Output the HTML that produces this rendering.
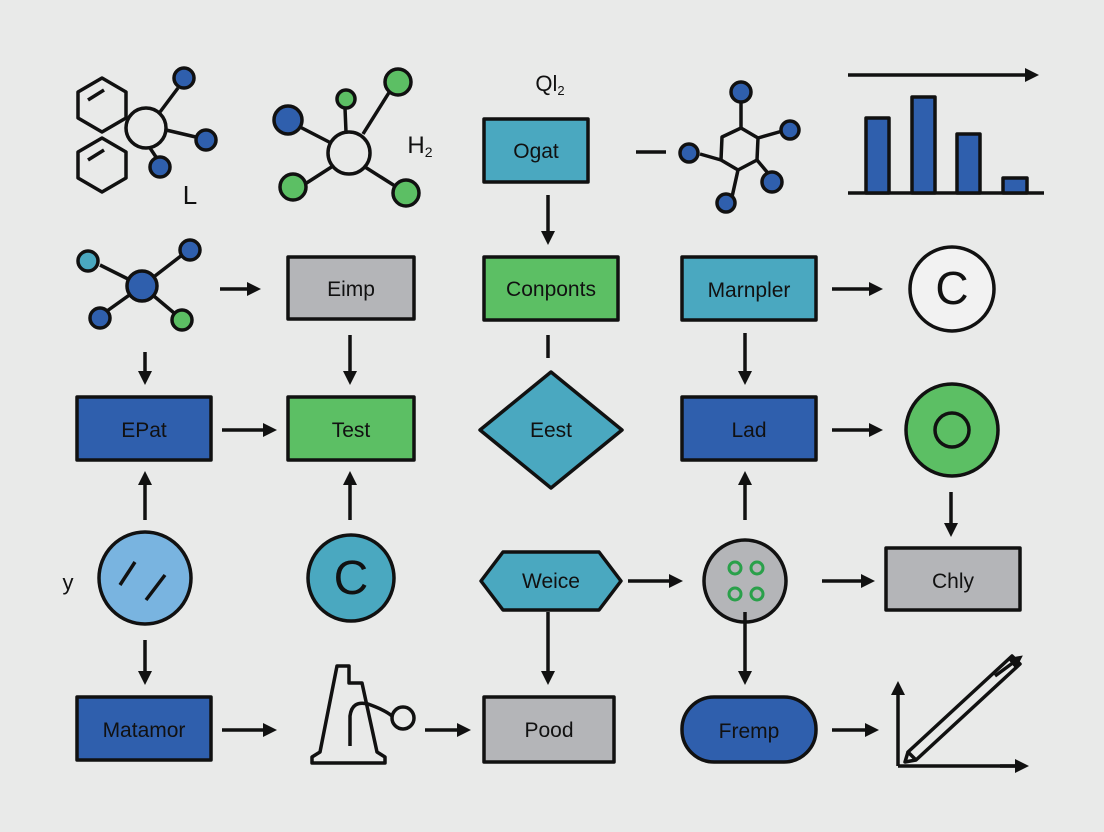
<!DOCTYPE html>
<html><head><style>body{margin:0;background:#e9eae9}svg{display:block}text{font-family:"Liberation Sans",sans-serif;fill:#111}</style></head><body>
<svg width="1104" height="832" viewBox="0 0 1104 832">
<defs><marker id="a" markerWidth="16" markerHeight="16" refX="3" refY="7" orient="auto" markerUnits="userSpaceOnUse"><path d="M0,0 L14,7 L0,14 Z" fill="#111"/></marker></defs>
<rect width="1104" height="832" fill="#e9eae9"/>
<g stroke="#111" stroke-width="3.5" fill="none" stroke-linejoin="round">
<path d="M78,92 L102,78 L126,92 L126,118 L102,132 L78,118 Z"/><path d="M88,100 L104,90"/>
<path d="M78,152 L102,138 L126,152 L126,178 L102,192 L78,178 Z"/><path d="M88,160 L104,150"/>
<circle cx="146" cy="128" r="20" fill="#e9eae9"/>
<path d="M160,112 L178,88 M166,130 L200,138 M150,148 L158,160"/>
<circle cx="349" cy="153" r="21" fill="#e9eae9"/>
<path d="M331,143 L298,126 M346,132 L345,108 M363,134 L390,91 M333,166 L305,184 M365,167 L395,186"/>
<path d="M722,137 L741,128 L758,138 L757,160 L738,170 L721,160 Z"/>
<path d="M741,128 L741,102 M758,138 L786,130 M757,160 L772,178 M738,170 L732,197 M721,160 L700,154 M636,152 L666,152"/>
<path d="M848,193 L1044,193"/>
<path d="M848,75 L1028,75" marker-end="url(#a)"/>
<rect x="866" y="118" width="23" height="75" fill="#2f5fad"/><rect x="912" y="97" width="23" height="96" fill="#2f5fad"/><rect x="957" y="134" width="23" height="59" fill="#2f5fad"/><rect x="1003" y="178" width="24" height="15" fill="#2f5fad"/>
<path d="M142,286 L100,265 M142,286 L186,252 M142,286 L100,316 M142,286 L180,318"/>
<rect x="484" y="119" width="104" height="63" fill="#4aa8c0"/>
<rect x="484" y="257" width="134" height="63" fill="#5cbf64"/>
<rect x="288" y="257" width="126" height="62" fill="#b4b5b8"/>
<rect x="682" y="257" width="134" height="63" fill="#4aa8c0"/>
<rect x="77" y="397" width="134" height="63" fill="#2f5fad"/>
<rect x="288" y="397" width="126" height="63" fill="#5cbf64"/>
<path d="M551,372 L622,430 L551,488 L480,430 Z" fill="#4aa8c0"/>
<rect x="682" y="397" width="134" height="63" fill="#2f5fad"/>
<circle cx="952" cy="289" r="42" fill="#f2f2f2"/>
<circle cx="952" cy="430" r="46" fill="#5cbf64"/><circle cx="952" cy="430" r="17"/>
<circle cx="145" cy="578" r="46" fill="#79b4e0"/><path d="M120,585 L135,562 M146,600 L165,575"/>
<circle cx="351" cy="578" r="43" fill="#4aa8c0"/>
<path d="M503,552 L599,552 L621,581 L599,610 L503,610 L481,581 Z" fill="#4aa8c0"/>
<circle cx="745" cy="581" r="41" fill="#b4b5b8"/>
<circle cx="735" cy="568" r="6" stroke="#2aa04a" stroke-width="3"/><circle cx="757" cy="568" r="6" stroke="#2aa04a" stroke-width="3"/><circle cx="735" cy="594" r="6" stroke="#2aa04a" stroke-width="3"/><circle cx="757" cy="594" r="6" stroke="#2aa04a" stroke-width="3"/>
<rect x="886" y="548" width="134" height="62" fill="#b4b5b8"/>
<rect x="77" y="697" width="134" height="63" fill="#2f5fad"/>
<rect x="484" y="697" width="130" height="65" fill="#b4b5b8"/>
<rect x="682" y="697" width="134" height="65" rx="32" fill="#2f5fad"/>
<path d="M337,666 L349,666 L349,683 L362,683 L377,752 L385,757 L385,763 L312,763 L312,757 L320,752 Z"/>
<path d="M350,746 L350,716 Q352,700 368,704 Q385,710 392,716"/><circle cx="403" cy="718" r="11"/>
<path d="M898,766 L1022,766"/><path d="M908,752 L1012,656 L1020,664 L916,760 Z M908,752 L905,762 L916,760"/>
<g marker-end="url(#a)">
<path d="M220,289 L250,289"/><path d="M222,430 L266,430"/><path d="M832,289 L872,289"/><path d="M832,430 L872,430"/><path d="M822,581 L864,581"/><path d="M222,730 L266,730"/><path d="M425,730 L460,730"/><path d="M628,581 L672,581"/><path d="M832,730 L868,730"/>
<path d="M145,352 L145,374"/><path d="M350,335 L350,374"/><path d="M548,195 L548,234"/><path d="M745,333 L745,374"/><path d="M951,492 L951,526"/><path d="M145,640 L145,674"/><path d="M548,612 L548,674"/><path d="M745,612 L745,674"/>
<path d="M145,520 L145,482"/><path d="M350,520 L350,482"/><path d="M745,520 L745,482"/>
<path d="M898,766 L898,692"/><path d="M1000,766 L1018,766"/><path d="M995,676 L1014,662"/>
</g>
<path d="M548,335 L548,358"/>
</g>
<g fill="#2f5fad" stroke="#111" stroke-width="3.5">
<circle cx="184" cy="78" r="10"/><circle cx="206" cy="140" r="10"/><circle cx="160" cy="167" r="10"/>
<circle cx="288" cy="120" r="14"/><circle cx="741" cy="92" r="10"/><circle cx="790" cy="130" r="9"/><circle cx="689" cy="153" r="9"/><circle cx="772" cy="182" r="10"/><circle cx="726" cy="203" r="9"/>
<circle cx="142" cy="286" r="15"/><circle cx="190" cy="250" r="10"/><circle cx="100" cy="318" r="10"/>
</g>
<g fill="#5cbf64" stroke="#111" stroke-width="3.5">
<circle cx="346" cy="99" r="9"/><circle cx="398" cy="82" r="13"/><circle cx="293" cy="187" r="13"/><circle cx="406" cy="193" r="13"/><circle cx="182" cy="320" r="10"/>
</g>
<circle cx="88" cy="261" r="10" fill="#4aa8c0" stroke="#111" stroke-width="3.5"/>
<g font-size="21" text-anchor="middle">
<text x="536" y="158">Ogat</text><text x="551" y="296">Conponts</text><text x="351" y="296">Eimp</text><text x="749" y="297">Marnpler</text>
<text x="144" y="437">EPat</text><text x="351" y="437">Test</text><text x="551" y="437">Eest</text><text x="749" y="437">Lad</text>
<text x="551" y="588">Weice</text><text x="953" y="588">Chly</text><text x="144" y="737">Matamor</text><text x="549" y="737">Pood</text><text x="749" y="738">Fremp</text>
<text x="190" y="204" font-size="26">L</text><text x="420" y="153" font-size="24">H<tspan font-size="14" dy="4">2</tspan></text><text x="550" y="91" font-size="22">Ql<tspan font-size="13" dy="4">2</tspan></text>
<text x="952" y="304" font-size="46">C</text><text x="351" y="594" font-size="48">C</text><text x="68" y="590" font-size="22">y</text>
</g>
</svg>
</body></html>
